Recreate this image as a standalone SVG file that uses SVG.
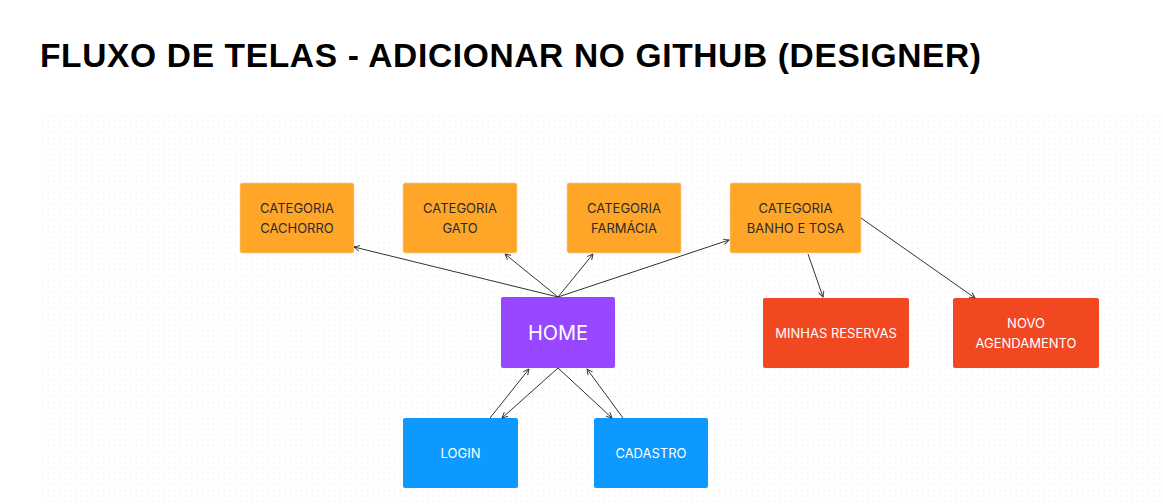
<svg xmlns="http://www.w3.org/2000/svg" width="1163" height="504" viewBox="0 0 1163 504">
  <defs>
    <pattern id="dots" x="42" y="115" width="5.5" height="5.5" patternUnits="userSpaceOnUse">
      <circle cx="1" cy="1" r="0.7" fill="#ebebeb"/>
    </pattern>
    <marker id="arr" viewBox="0 0 10 10" refX="9" refY="5" markerWidth="7" markerHeight="7" orient="auto" markerUnits="userSpaceOnUse">
      <path d="M1,1 L9,5 L1,9" fill="none" stroke="#333" stroke-width="1.3"/>
    </marker>
  </defs>
  <style>
    .title { font-family: "Liberation Sans", Arial, sans-serif; font-weight: bold; font-size: 33.5px; fill: #000; }
    .lbl { font-family: Inter, "Noto Sans", sans-serif; font-size: 13px; text-anchor: middle; }
    .dark { fill: #2b2b2b; }
    .light { fill: #ffffff; }
    .orange { fill: #FFA629; stroke: #f6d39a; stroke-width: 0.6; }
    .purple { fill: #9747FF; }
    .red { fill: #F24822; }
    .blue { fill: #0D99FF; }
    .conn line { stroke: #333; stroke-width: 1; marker-end: url(#arr); }
  </style>
  <rect width="1163" height="504" fill="#ffffff"/>
  <rect x="42" y="115" width="1121" height="389" fill="url(#dots)"/>

  <text class="title" x="40" y="67" textLength="941" lengthAdjust="spacing">FLUXO DE TELAS - ADICIONAR NO GITHUB (DESIGNER)</text>

  <g id="cat-cachorro">
    <rect class="orange" x="240" y="183" width="114" height="70" rx="2"/>
    <text class="lbl dark" x="297" y="213">CATEGORIA</text>
    <text class="lbl dark" x="297" y="233">CACHORRO</text>
  </g>
  <g id="cat-gato">
    <rect class="orange" x="403" y="183" width="114" height="70" rx="2"/>
    <text class="lbl dark" x="460" y="213">CATEGORIA</text>
    <text class="lbl dark" x="460" y="233">GATO</text>
  </g>
  <g id="cat-farmacia">
    <rect class="orange" x="567" y="183" width="114" height="70" rx="2"/>
    <text class="lbl dark" x="624" y="213">CATEGORIA</text>
    <text class="lbl dark" x="624" y="233">FARMÁCIA</text>
  </g>
  <g id="cat-banho">
    <rect class="orange" x="730" y="183" width="131" height="70" rx="2"/>
    <text class="lbl dark" x="795.5" y="213">CATEGORIA</text>
    <text class="lbl dark" x="795.5" y="233">BANHO E TOSA</text>
  </g>
  <g id="home">
    <rect class="purple" x="501" y="297" width="114" height="71" rx="2"/>
    <text class="lbl light" x="558" y="340" style="font-size:20px">HOME</text>
  </g>
  <g id="minhas-reservas">
    <rect class="red" x="763" y="298" width="146" height="70" rx="2"/>
    <text class="lbl light" x="836" y="338">MINHAS RESERVAS</text>
  </g>
  <g id="novo-agendamento">
    <rect class="red" x="953" y="298" width="146" height="70" rx="2"/>
    <text class="lbl light" x="1026" y="328">NOVO</text>
    <text class="lbl light" x="1026" y="348">AGENDAMENTO</text>
  </g>
  <g id="login">
    <rect class="blue" x="403" y="418" width="115" height="70" rx="2"/>
    <text class="lbl light" x="460.5" y="458">LOGIN</text>
  </g>
  <g id="cadastro">
    <rect class="blue" x="594" y="418" width="114" height="70" rx="2"/>
    <text class="lbl light" x="651" y="458">CADASTRO</text>
  </g>

  <g id="connectors" class="conn">
    <line x1="558" y1="297" x2="354" y2="247"/>
    <line x1="558" y1="297" x2="505" y2="254"/>
    <line x1="558" y1="297" x2="593" y2="254"/>
    <line x1="558" y1="297" x2="729" y2="240"/>
    <line x1="808" y1="254" x2="823" y2="297"/>
    <line x1="861" y1="218" x2="975" y2="298"/>
    <line x1="490" y1="418" x2="529" y2="369"/>
    <line x1="558" y1="368" x2="502" y2="418"/>
    <line x1="558" y1="368" x2="612" y2="418"/>
    <line x1="623" y1="418" x2="587" y2="369"/>
  </g>
</svg>
